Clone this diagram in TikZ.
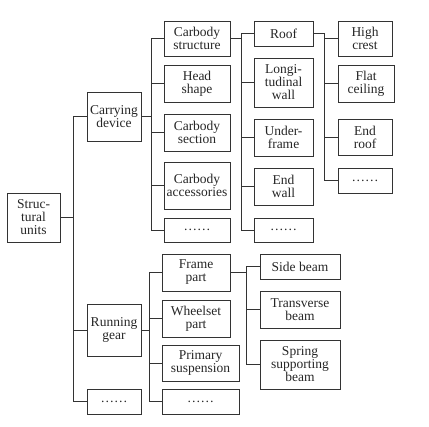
\documentclass[tikz,border=0pt]{standalone}
\usepackage{fontspec}
\setmainfont{Liberation Serif}
\usetikzlibrary{positioning}

\begin{document}
\begin{tikzpicture}[
    x=1pt, y=-1pt,
    unit/.style = {rectangle, draw=black!80, line width=0.9pt, inner sep=0pt, align=center,
                   text=black!85, font=\fontsize{13.5}{13}\selectfont},
    link/.style = {draw=black!80, line width=0.9pt}
]
\useasboundingbox (0,0) rectangle (429,427);

% level 0 and 1
\node[unit, minimum width=53, minimum height=49] (units) at (33.5,217.5) {Struc-\\tural\\units};
\node[unit, minimum width=54, minimum height=49] (carrying) at (114,116.5) {Carrying\\device};
\node[unit, minimum width=54, minimum height=52] (running) at (114,330) {Running\\gear};
\node[unit, minimum width=54, minimum height=25] (dotsA) at (114,401.5) {……};

% carrying device
\node[unit, minimum width=66, minimum height=35] (structure) at (197,38.5) {Carbody\\structure};
\node[unit, minimum width=66, minimum height=37] (head) at (197,83.5) {Head\\shape};
\node[unit, minimum width=66, minimum height=37] (section) at (197,132.5) {Carbody\\section};
\node[unit, minimum width=66, minimum height=47] (accessories) at (197,185.5) {Carbody\\accessories};
\node[unit, minimum width=66, minimum height=24] (dotsB) at (197,230) {……};

% running gear
\node[unit, minimum width=68, minimum height=37] (frame) at (196,272.5) {Frame\\part};
\node[unit, minimum width=68, minimum height=37] (wheelset) at (196,318.5) {Wheelset\\part};
\node[unit, minimum width=77, minimum height=36] (primary) at (200.5,363) {Primary\\suspension};
\node[unit, minimum width=77, minimum height=25] (dotsC) at (200.5,401.5) {……};

% carbody structure
\node[unit, minimum width=59, minimum height=25] (roof) at (283.5,33.5) {Roof};
\node[unit, minimum width=59, minimum height=49] (longwall) at (283.5,82.5) {Longi-\\tudinal\\wall};
\node[unit, minimum width=59, minimum height=37] (underframe) at (283.5,137.5) {Under-\\frame};
\node[unit, minimum width=59, minimum height=37] (endwall) at (283.5,186.5) {End\\wall};
\node[unit, minimum width=59, minimum height=24] (dotsD) at (283.5,230) {……};

% roof
\node[unit, minimum width=54, minimum height=35] (crest) at (365,38.5) {High\\crest};
\node[unit, minimum width=56, minimum height=37] (ceiling) at (366,83.5) {Flat\\ceiling};
\node[unit, minimum width=54, minimum height=36] (endroof) at (365,137) {End\\roof};
\node[unit, minimum width=54, minimum height=25] (dotsE) at (365,180.5) {……};

% frame part
\node[unit, minimum width=80, minimum height=25] (sidebeam) at (300,266.5) {Side beam};
\node[unit, minimum width=80, minimum height=37] (transbeam) at (300,309.5) {Transverse\\beam};
\node[unit, minimum width=80, minimum height=49] (springbeam) at (300,364.5) {Spring\\supporting\\beam};

% connectors
\foreach \child in {carrying, running, dotsA}
    \path[link] (units.east) -- +(13,0) |- (\child.west);
\foreach \child in {structure, head, section, accessories, dotsB}
    \path[link] (carrying.east) -- +(10,0) |- (\child.west);
\foreach \child in {frame, wheelset, primary, dotsC}
    \path[link] (running.east) -- +(8,0) |- (\child.west);
\foreach \child in {roof, longwall, underframe, endwall, dotsD}
    \path[link] (structure.east) -- +(11,0) |- (\child.west);
\foreach \child in {crest, ceiling, endroof, dotsE}
    \path[link] (roof.east) -- +(11,0) |- (\child.west);
\foreach \child in {sidebeam, transbeam, springbeam}
    \path[link] (frame.east) -- +(16,0) |- (\child.west);
\end{tikzpicture}
\end{document}
